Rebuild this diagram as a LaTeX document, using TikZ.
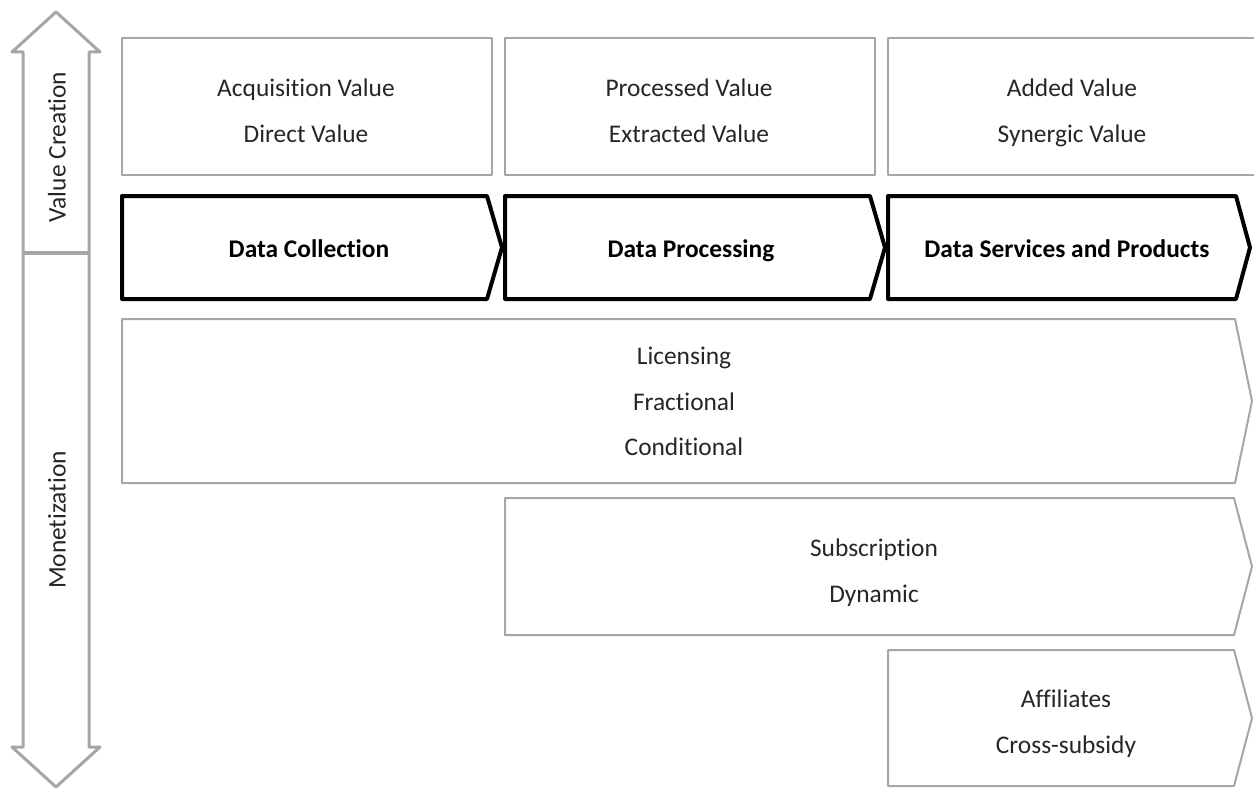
\documentclass[tikz,border=0pt]{standalone}
\usepackage{fontspec}
\setmainfont{Carlito}[Ligatures={NoCommon}]
\usetikzlibrary{positioning}
\definecolor{ChainGray}{HTML}{A6A6A6}
\definecolor{ChainText}{HTML}{262626}

\begin{document}
\begin{tikzpicture}[x=1bp,y=-1bp,line join=round]
  \tikzstyle{valuebox}=[draw=ChainGray, line width=2bp, minimum width=370bp, minimum height=137bp, inner sep=0pt, outer sep=0pt]
  \tikzstyle{label}=[text=ChainText, align=center, font=\fontsize{25.5}{46}\selectfont]
  \tikzstyle{stagelabel}=[text=black, font=\fontsize{25.5}{30}\selectfont\bfseries, text height=18bp, text depth=6bp]
  \tikzstyle{stage}=[draw=black, line width=4bp, fill=white]
  \tikzstyle{model}=[draw=ChainGray, line width=2bp]
  \useasboundingbox (0,0) rectangle (1254,789);
  % value creation / monetization axis
  \draw[draw=ChainGray, line width=3bp, fill=white] (23,52) -- (12,52) -- (56,12) -- (100,52) -- (89,52)
    -- (89,747) -- (100,747) -- (56,787) -- (12,747) -- (23,747) -- cycle;
  \draw[draw=ChainGray, line width=4bp] (23,253) -- (89,253);
  \node[label, rotate=90] (vc) at (57,147) {Value Creation};
  \node[label, rotate=90] (mon) at (57,520) {Monetization};
  % value types
  \node[valuebox] (v1) at (307,106.5) {};
  \node[valuebox] (v2) at (690,106.5) {};
  \node[valuebox] (v3) at (1073,106.5) {};
  \node[label] (v1t) at (306,110) {\strut Acquisition Value\\Direct Value\strut};
  \node[label] (v2t) at (689,110) {\strut Processed Value\\Extracted Value\strut};
  \node[label] (v3t) at (1072,110) {\strut Added Value\\Synergic Value\strut};
  % stages
  \draw[stage] (122,196) -- (487,196) -- (502,247.5) -- (487,299) -- (122,299) -- cycle;
  \draw[stage] (505,196) -- (870,196) -- (885,247.5) -- (870,299) -- (505,299) -- cycle;
  \draw[stage] (888,196) -- (1236,196) -- (1250,247.5) -- (1236,299) -- (888,299) -- cycle;
  \node[stagelabel] (s1) at (309,251) {Data Collection};
  \node[stagelabel] (s2) at (691,251) {Data Processing};
  \node[stagelabel] (s3) at (1067,251) {Data Services and Products};
  % monetization models
  \draw[model] (122,319) -- (1235,319) -- (1252,401) -- (1235,483) -- (122,483) -- cycle;
  \draw[model] (505,498) -- (1234,498) -- (1252,566.5) -- (1234,635) -- (505,635) -- cycle;
  \draw[model] (888,650) -- (1234,650) -- (1252,718) -- (1234,786) -- (888,786) -- cycle;
  \node[label] (m1) at (684,401) {\strut Licensing\\Fractional\\Conditional\strut};
  \node[label] (m2) at (874,570) {\strut Subscription\\Dynamic\strut};
  \node[label] (m3) at (1066,721) {\strut Affiliates\\Cross-subsidy\strut};
\end{tikzpicture}
\end{document}
